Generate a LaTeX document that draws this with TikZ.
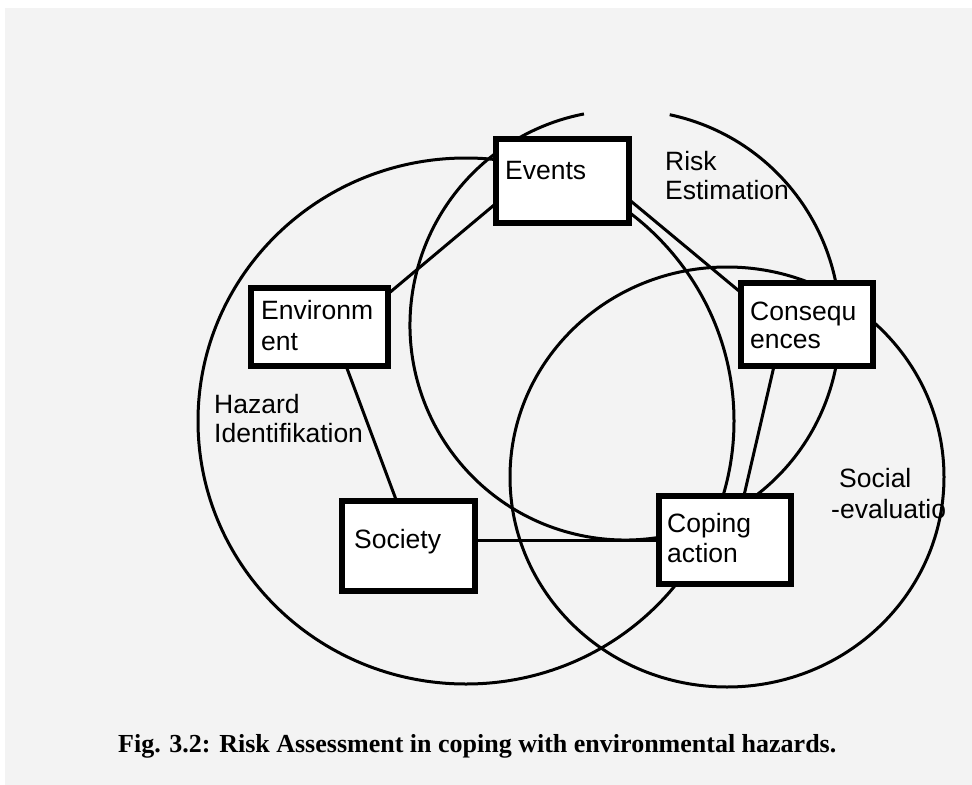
\documentclass[tikz,border=0pt]{standalone}
\usepackage{fontspec}
\setmainfont{Liberation Sans}
\newfontfamily\capfont{Liberation Serif}
\definecolor{paper}{RGB}{243,243,243}
\begin{document}
\begin{tikzpicture}[x=1bp,y=-1bp,
  ring/.style={line width=3bp},
  link/.style={line width=3bp},
  box/.style={draw, line width=4bp, fill=white, inner sep=0pt},
  txt/.style={anchor=base west, inner sep=0pt, font=\fontsize{26.5bp}{30bp}\selectfont},
  captxt/.style={anchor=base west, inner sep=0pt, font=\capfont\bfseries\fontsize{26bp}{30bp}\selectfont}]
\useasboundingbox (0,0) rectangle (972,785);
\fill[paper] (5,8) rectangle (972,785);

% three overlapping circles
\draw[ring] (466,421) ellipse [x radius=268, y radius=263];
\draw[ring] (625,325) ++(-78:215) arc[start angle=-78, end angle=259, radius=215];
\draw[ring] (727,477) ellipse [x radius=217, y radius=210];

% box centres
\coordinate (cev) at (562.5,181);
\coordinate (cenv) at (319.5,327);
\coordinate (ccons) at (807,324.5);
\coordinate (csoc) at (408.5,546);
\coordinate (ccop) at (725,540);

\node[box, minimum width=131bp, minimum height=82bp] (ev) at (cev) {};
\node[box, minimum width=135bp, minimum height=76bp] (env) at (cenv) {};
\node[box, minimum width=130bp, minimum height=81bp] (cons) at (ccons) {};
\node[box, minimum width=131bp, minimum height=88bp] (soc) at (csoc) {};
\node[box, minimum width=130bp, minimum height=86bp] (cop) at (ccop) {};

% connectors
\draw[link] (env.26.7) -- (ev.-161);
\draw[link] (env.-56) -- (soc.105);
\draw[link] (ev.-16) -- (cons.154);
\draw[link] (cons.-128) -- (cop.67);
\draw[link] (cop.west) -- (cop.west -| soc.east);

% box borders on top of connector ends
\foreach \n in {ev,env,cons,soc,cop}{
  \draw[line width=4bp] (\n.north west) rectangle (\n.south east);
}

% texts
\node[txt] (tev) at (505,179) {Events};
\node[txt] (tenv1) at (261,319) {Environm};
\node[txt] (tenv2) at (261,350) {ent};
\node[txt] (trisk1) at (665,170) {Risk};
\node[txt] (trisk2) at (665,199) {Estimation};
\node[txt] (tcons1) at (750,320) {Consequ};
\node[txt] (tcons2) at (750,348) {ences};
\node[txt] (thaz1) at (214,413) {Hazard};
\node[txt] (thaz2) at (214,442) {Identifikation};
\node[txt] (tsoc) at (354,548) {Society};
\node[txt] (tcop1) at (667,532) {Coping};
\node[txt] (tcop2) at (667,562) {action};
\node[txt] (tsev1) at (839,487) {Social};
\node[txt] (tsev2) at (831,518) {-evaluatio};

\node[captxt] (cap) at (118,752) {Fig. 3.2: Risk Assessment in coping with environmental hazards.};
\end{tikzpicture}
\end{document}
